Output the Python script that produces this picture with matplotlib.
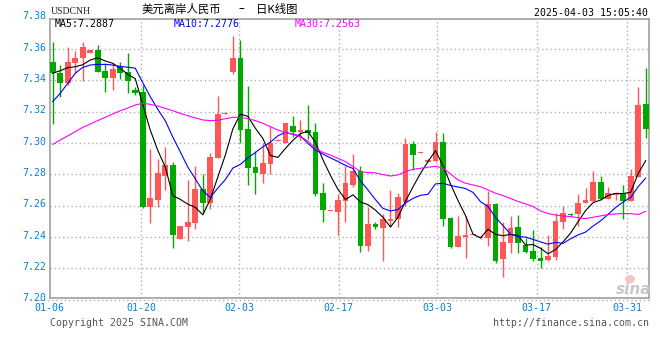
import matplotlib
matplotlib.use('Agg')
import matplotlib.pyplot as plt
from matplotlib.patches import Ellipse
import numpy as np

# daily candles, USD/CNH offshore, 2025-01-06 .. 2025-04-03
opens = [7.3517, 7.3449, 7.3381, 7.3513, 7.3545, 7.3577, 7.3594, 7.3457, 7.3417, 7.3483,
         7.3451, 7.3338, 7.3326, 7.2594, 7.2636, 7.2791, 7.2860, 7.2387, 7.2466, 7.2491,
         7.2706, 7.2619, 7.2906, 7.3187, 7.3453, 7.3543, 7.3089, 7.2849, 7.2802, 7.2868,
         7.3015, 7.3002, 7.3109, 7.3072, 7.3083, 7.3070, 7.2681, 7.2568, 7.2562, 7.2632,
         7.2734, 7.2819, 7.2345, 7.2483, 7.2460, 7.2504, 7.2515, 7.2621, 7.2996, 7.2938,
         7.2881, 7.2885, 7.3006, 7.2521, 7.2338, 7.2402, 7.2412, 7.2391, 7.2391, 7.2611,
         7.2257, 7.2364, 7.2462, 7.2349, 7.2311, 7.2266, 7.2253, 7.2274, 7.2498, 7.2549,
         7.2549, 7.2619, 7.2632, 7.2749, 7.2645, 7.2666, 7.2672, 7.2632, 7.2785, 7.3249]
highs = [7.3647, 7.3498, 7.3615, 7.3587, 7.3647, 7.3596, 7.3626, 7.3509, 7.3509, 7.3517,
         7.3574, 7.3360, 7.3370, 7.2962, 7.2896, 7.2977, 7.2877, 7.2472, 7.2764, 7.2853,
         7.2802, 7.2934, 7.3300, 7.3196, 7.3683, 7.3657, 7.3364, 7.2951, 7.2998, 7.3109,
         7.3023, 7.3130, 7.3172, 7.3147, 7.3243, 7.3126, 7.2743, 7.2574, 7.2674, 7.2853,
         7.2930, 7.2855, 7.2594, 7.2498, 7.2545, 7.2700, 7.2679, 7.3030, 7.3013, 7.2942,
         7.2895, 7.3072, 7.3064, 7.2530, 7.2534, 7.2536, 7.2414, 7.2404, 7.2694, 7.2619,
         7.2498, 7.2534, 7.2540, 7.2391, 7.2445, 7.2338, 7.2413, 7.2551, 7.2598, 7.2551,
         7.2674, 7.2711, 7.2821, 7.2789, 7.2721, 7.2683, 7.2732, 7.2832, 7.3355, 7.3477]
lows = [7.3120, 7.3296, 7.3370, 7.3445, 7.3398, 7.3575, 7.3453, 7.3328, 7.3338, 7.3409,
        7.3321, 7.3304, 7.2583, 7.2491, 7.2594, 7.2700, 7.2332, 7.2385, 7.2377, 7.2453,
        7.2555, 7.2581, 7.2904, 7.3186, 7.3443, 7.2998, 7.2734, 7.2677, 7.2747, 7.2802,
        7.3013, 7.2998, 7.3036, 7.3019, 7.3023, 7.2664, 7.2496, 7.2566, 7.2415, 7.2496,
        7.2717, 7.2306, 7.2311, 7.2449, 7.2249, 7.2466, 7.2466, 7.2600, 7.2828, 7.2936,
        7.2879, 7.2881, 7.2472, 7.2328, 7.2336, 7.2266, 7.2411, 7.2389, 7.2345, 7.2236,
        7.2147, 7.2300, 7.2300, 7.2296, 7.2243, 7.2204, 7.2243, 7.2253, 7.2451, 7.2532,
        7.2470, 7.2615, 7.2626, 7.2636, 7.2643, 7.2636, 7.2515, 7.2630, 7.2783, 7.3034]
closes = [7.3445, 7.3385, 7.3517, 7.3543, 7.3611, 7.3594, 7.3455, 7.3417, 7.3470, 7.3449,
          7.3398, 7.3321, 7.2594, 7.2647, 7.2806, 7.2860, 7.2415, 7.2470, 7.2496, 7.2706,
          7.2619, 7.2911, 7.3185, 7.3194, 7.3543, 7.3085, 7.2843, 7.2806, 7.2870, 7.2998,
          7.3021, 7.3128, 7.3070, 7.3083, 7.3066, 7.2674, 7.2572, 7.2572, 7.2634, 7.2743,
          7.2823, 7.2345, 7.2483, 7.2462, 7.2513, 7.2513, 7.2657, 7.2996, 7.2923, 7.2940,
          7.2891, 7.3006, 7.2517, 7.2338, 7.2406, 7.2413, 7.2413, 7.2402, 7.2611, 7.2243,
          7.2370, 7.2455, 7.2364, 7.2306, 7.2262, 7.2249, 7.2279, 7.2502, 7.2555, 7.2538,
          7.2615, 7.2636, 7.2749, 7.2643, 7.2681, 7.2679, 7.2632, 7.2789, 7.3243, 7.3091]

ma5 = [7.3445, 7.3462, 7.3481, 7.3487, 7.3500, 7.3530, 7.3544, 7.3524, 7.3509, 7.3477,
       7.3438, 7.3411, 7.3246, 7.3082, 7.2953, 7.2846, 7.2664, 7.2640, 7.2609, 7.2589,
       7.2541, 7.2640, 7.2783, 7.2923, 7.3090, 7.3184, 7.3170, 7.3094, 7.3029, 7.2920,
       7.2908, 7.2965, 7.3017, 7.3060, 7.3074, 7.3004, 7.2893, 7.2793, 7.2704, 7.2639,
       7.2669, 7.2623, 7.2606, 7.2571, 7.2525, 7.2463, 7.2526, 7.2628, 7.2720, 7.2806,
       7.2881, 7.2951, 7.2855, 7.2738, 7.2632, 7.2536, 7.2417, 7.2394, 7.2449, 7.2416,
       7.2408, 7.2416, 7.2409, 7.2348, 7.2351, 7.2327, 7.2292, 7.2320, 7.2369, 7.2425,
       7.2498, 7.2569, 7.2619, 7.2636, 7.2665, 7.2678, 7.2677, 7.2685, 7.2805, 7.2887]
ma10 = [7.3264, 7.3317, 7.3381, 7.3445, 7.3483, 7.3498, 7.3502, 7.3502, 7.3498, 7.3489,
        7.3484, 7.3478, 7.3385, 7.3296, 7.3215, 7.3142, 7.3038, 7.2943, 7.2846, 7.2771,
        7.2694, 7.2652, 7.2712, 7.2766, 7.2840, 7.2863, 7.2905, 7.2939, 7.2976, 7.3005,
        7.3046, 7.3068, 7.3056, 7.3045, 7.2997, 7.2956, 7.2929, 7.2905, 7.2882, 7.2857,
        7.2837, 7.2758, 7.2700, 7.2638, 7.2582, 7.2566, 7.2575, 7.2617, 7.2646, 7.2666,
        7.2672, 7.2739, 7.2742, 7.2729, 7.2719, 7.2709, 7.2684, 7.2625, 7.2594, 7.2524,
        7.2472, 7.2417, 7.2402, 7.2399, 7.2384, 7.2368, 7.2354, 7.2365, 7.2359, 7.2388,
        7.2413, 7.2431, 7.2470, 7.2503, 7.2545, 7.2588, 7.2623, 7.2652, 7.2721, 7.2776]
ma30 = [7.2991, 7.3019, 7.3045, 7.3072, 7.3100, 7.3121, 7.3143, 7.3164, 7.3185, 7.3206,
        7.3223, 7.3243, 7.3253, 7.3247, 7.3236, 7.3221, 7.3206, 7.3189, 7.3174, 7.3160,
        7.3147, 7.3143, 7.3145, 7.3155, 7.3164, 7.3164, 7.3155, 7.3143, 7.3126, 7.3104,
        7.3083, 7.3066, 7.3055, 7.3040, 7.3013, 7.2966, 7.2940, 7.2923, 7.2902, 7.2881,
        7.2849, 7.2817, 7.2811, 7.2809, 7.2798, 7.2789, 7.2796, 7.2817, 7.2832, 7.2838,
        7.2845, 7.2851, 7.2840, 7.2802, 7.2764, 7.2743, 7.2732, 7.2721, 7.2700, 7.2679,
        7.2664, 7.2645, 7.2626, 7.2611, 7.2594, 7.2566, 7.2549, 7.2540, 7.2534, 7.2530,
        7.2523, 7.2517, 7.2526, 7.2534, 7.2543, 7.2547, 7.2549, 7.2549, 7.2543, 7.2563]

date_labels = ['01-06', '01-20', '02-03', '02-17', '03-03', '03-17', '03-31']
date_pos = [-0.45, 11.8, 24.85, 38.1, 51.25, 64.5, 76.55]
price_ticks = [7.20, 7.22, 7.24, 7.26, 7.28, 7.30, 7.32, 7.34, 7.36, 7.38]

W, H = 660, 360
RED = '#ff5656'
GREEN = '#00a800'
BLUE_TXT = '#0a7fd2'
MONO = 'DejaVu Sans Mono'
CJK = ['Noto Sans CJK SC', 'DejaVu Sans']


def fpos(x, y):
    return x / W, 1 - y / H


fig = plt.figure(figsize=(W / 100, H / 100), dpi=100)
ax = fig.add_axes([50.3 / W, 1 - 297.5 / H, 598.7 / W, 278.5 / H])

n = len(closes)
xs = np.arange(n)
o = np.array(opens)
c = np.array(closes)
up = c >= o
colors = np.where(up, RED, GREEN)

ax.vlines(xs, lows, highs, colors=colors, linewidth=1.0, zorder=3)
body_lo = np.minimum(o, c)
body_h = np.maximum(np.abs(c - o), 0.0007)
ax.bar(xs, body_h, bottom=body_lo, width=0.76, color=colors, linewidth=0, zorder=4)

ax.plot(xs, ma5, color='black', lw=0.8, zorder=5)
ax.plot(xs, ma10, color='#0000ff', lw=0.8, zorder=5)
ax.plot(xs, ma30, color='#ff00ff', lw=0.8, zorder=5)

ax.set_xlim(-0.32, 79.44)
ax.set_ylim(7.2013, 7.3792)

for p in price_ticks[1:-1]:
    ax.axhline(p, color='#b0b0b0', lw=1.0, ls=(0, (1, 2)), zorder=1)
for p in date_pos[1:]:
    ax.axvline(p, color='#b0b0b0', lw=1.0, ls=(0, (1, 2)), zorder=1)

# dotted base line under the chart
ax.plot([-0.026, 1.003], [7.20, 7.20], transform=ax.get_yaxis_transform(),
        color='#b0b0b0', lw=1.0, ls=(0, (1, 2)), clip_on=False)

for s in ax.spines.values():
    s.set_color('#a0a0a0')
    s.set_linewidth(1.2)
ax.set_xticks([])
ax.set_yticks([])

for p in price_ticks:
    ax.text(-0.007, p + 0.0008, '%.2f' % p, transform=ax.get_yaxis_transform(),
            ha='right', va='center', fontsize=7.1, family=MONO, color=BLUE_TXT, clip_on=False)
for lab, p in zip(date_labels, date_pos):
    ax.text(p, 7.2013 - 0.0068, lab, ha='center', va='center', fontsize=7.1, family=MONO,
            color=BLUE_TXT, clip_on=False)

# header
fig.text(*fpos(51, 12), 'USDCNH', fontsize=7.0, family='Liberation Serif', color='#222222',
         ha='left', va='center')
fig.text(*fpos(141.5, 9), '美元离岸人民币', fontsize=8.2, family=CJK, color='black',
         ha='left', va='center')
fig.text(*fpos(241, 9), '\u2013', fontsize=8.5, family='DejaVu Sans', color='black',
         ha='center', va='center')
fig.text(*fpos(255.5, 9), '日K线图', fontsize=8.2, family=CJK, color='black',
         ha='left', va='center')
fig.text(*fpos(648.5, 12.5), '2025-04-03 15:05:40', fontsize=7.1, family=MONO,
         color='black', ha='right', va='center')

fig.text(*fpos(54.5, 24), 'MA5:%.4f' % ma5[-1], fontsize=7.1, family=MONO, color='black',
         ha='left', va='center')
fig.text(*fpos(174, 24), 'MA10:%.4f' % ma10[-1], fontsize=7.1, family=MONO, color='#0000ff',
         ha='left', va='center')
fig.text(*fpos(295, 24), 'MA30:%.4f' % ma30[-1], fontsize=7.1, family=MONO, color='#ff00ff',
         ha='left', va='center')

# footer
fig.text(*fpos(49.5, 323.5), 'Copyright 2025 SINA.COM', fontsize=7.1, family=MONO,
         color='#555555', ha='left', va='center')
fig.text(*fpos(649, 323.5), 'http://finance.sina.com.cn', fontsize=7.1, family=MONO,
         color='#555555', ha='right', va='center')

# watermark
fig.patches.append(Ellipse(fpos(630, 279), 10 / W, 8 / H, transform=fig.transFigure,
                           facecolor='#f6c4c4', edgecolor='none', zorder=6))
fig.text(*fpos(634, 290), 'sina', fontsize=11, style='italic', weight='bold',
         color='#c8c8c8', ha='center', va='center', family='DejaVu Sans')

fig.savefig('out.png', dpi=100)
